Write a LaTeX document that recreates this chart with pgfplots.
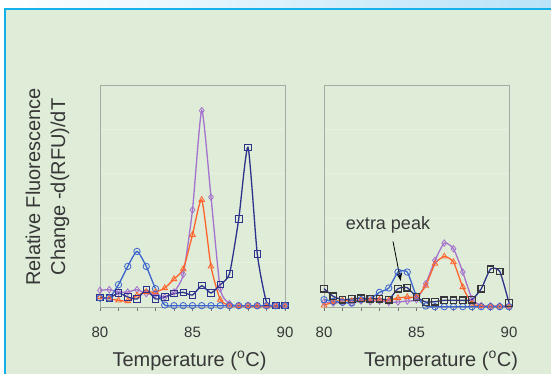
\documentclass[border=0pt]{standalone}
\usepackage{pgfplots}
\pgfplotsset{compat=1.18}
\usepackage{fontspec}
\setmainfont{Liberation Sans}
\usetikzlibrary{arrows.meta}
\definecolor{bggreen}{RGB}{222,236,216}
\definecolor{bordercyan}{RGB}{20,176,232}
\definecolor{topblue}{RGB}{184,227,248}
\definecolor{txt}{RGB}{55,55,55}
\definecolor{cblue}{RGB}{60,100,205}
\definecolor{cnavy}{RGB}{45,50,140}
\definecolor{cpurple}{RGB}{165,115,205}
\definecolor{corange}{RGB}{255,100,45}
\definecolor{cdark}{RGB}{55,55,60}
\definecolor{framegray}{RGB}{165,170,165}
\definecolor{gridc}{RGB}{229,241,225}
\pgfplotsset{
  panel/.style={
    scale only axis, width=185pt, height=222pt,
    xmin=80, xmax=90, ymin=0, ymax=667,
    xtick={80,85,90}, minor x tick num=4,
    ytick={133.4,266.8,400.2,533.6}, yticklabels={},
    ymajorgrids, grid style={gridc, line width=0.8pt},
    y tick style={draw=none},
    tick align=outside, xtick pos=bottom,
    major tick length=4pt, minor tick length=4pt,
    x tick style={black!55, line width=0.6pt},
    axis line style={framegray, line width=0.8pt},
    /pgf/number format/assume math mode=true,
    xticklabel style={font=\fontsize{15}{17}\selectfont, text=txt, anchor=center, yshift=-21pt},
    xlabel={Temperature (\textsuperscript{o}C)},
    xlabel style={font=\fontsize{20}{22}\selectfont, text=txt, at={(axis description cs:0.5,0)}, anchor=center, yshift=-54pt},
    clip=false,
  },
  ser/.style={line width=1.3pt, smooth, tension=0.35, mark size=3.2pt, mark options={solid, fill=none, line width=0.8pt}},
}
\begin{document}
\begin{tikzpicture}[x=1pt,y=1pt]
\useasboundingbox (0,0) rectangle (551,374);
\shade[left color=white, right color=topblue] (0,0) rectangle (551,374);
\fill[bggreen] (5,0) rectangle (556,365);
\draw[bordercyan, line width=2pt] (5,-5) -- (5,365) -- (556,365);

\node[rotate=90, align=center, font=\fontsize{20}{25}\selectfont, text=txt] at (47.5,187) {Relative Fluorescence\\Change -d(RFU)/dT};

\begin{axis}[panel, at={(100pt,67pt)}, anchor=south west, xlabel style={xshift=-3pt}]
\addplot[ser, cpurple, mark=diamond] coordinates {(80,50)(80.5,52)(81,45)(81.5,45)(82,52)(82.5,40)(83,38)(83.5,30)(84,45)(84.5,98)(85,292)(85.5,590)(86,330)(86.5,55)(87,10)(87.5,4)(88,4)(88.5,4)(89,4)(89.5,4)(90,4)};
\addplot[ser, corange, mark=triangle] coordinates {(80,30)(80.5,25)(81,20)(81.5,18)(82,35)(82.5,45)(83,45)(83.5,57)(84,84)(84.5,114)(85,217)(85.5,322)(86,122)(86.5,22)(87,5)(87.5,3)(88,3)(88.5,2)(89,2)(89.5,2)(90,2)};
\addplot[ser, cnavy, mark=square] coordinates {(80,28)(80.5,27)(81,42)(81.5,30)(82,24)(82.5,52)(83,24)(83.5,30)(84,40)(84.5,44)(85,36)(85.5,64)(86,42)(86.5,67)(87,100)(87.5,265)(88,480)(88.5,160)(89,15)(89.5,4)(90,4)};
\addplot[ser, cblue, mark=o] coordinates {(80,27)(80.5,27)(81,67)(81.5,122)(82,167)(82.5,122)(83,55)(83.5,6)(84,4)(84.5,4)(85,4)(85.5,4)(86,4)(86.5,4)(87,4)(87.5,4)(88,4)(88.5,4)(89,4)(89.5,4)(90,4)};
\end{axis}

\begin{axis}[panel, at={(324pt,67pt)}, anchor=south west, xlabel style={xshift=24.5pt}]
\addplot[ser, cpurple, mark=diamond] coordinates {(80,15)(80.5,12)(81,14)(81.5,12)(82,18)(82.5,16)(83,18)(83.5,14)(84,15)(84.5,18)(85,22)(85.5,70)(86,140)(86.5,192)(87,175)(87.5,105)(88,25)(88.5,4)(89,3)(89.5,3)(90,3)};
\addplot[ser, corange, mark=triangle] coordinates {(80,5)(80.5,15)(81,20)(81.5,18)(82,20)(82.5,20)(83,22)(83.5,20)(84,27)(84.5,30)(85,30)(85.5,64)(86,130)(86.5,152)(87,135)(87.5,60)(88,10)(88.5,3)(89,2)(89.5,2)(90,2)};
\addplot[ser, cblue, mark=o] coordinates {(80,22)(80.5,17)(81,14)(81.5,12)(82,22)(82.5,25)(83,44)(83.5,57)(84,105)(84.5,105)(85,32)(85.5,3)(86,1)(86.5,1)(87,1)(87.5,1)(88,1)(88.5,1)(89,1)(89.5,1)(90,1)};
\addplot[ser, cnavy, mark=square, mark options={draw=cdark}] coordinates {(80,55)(80.5,32)(81,22)(81.5,24)(82,26)(82.5,25)(83,25)(83.5,22)(84,55)(84.5,58)(85,30)(85.5,15)(86,16)(86.5,20)(87,20)(87.5,20)(88,22)(88.5,55)(89,114)(89.5,107)(90,12)};
\node[font=\fontsize{18}{20}\selectfont, text=txt] at (axis cs:83.46,247) {extra peak};
\draw[-{Latex[length=8pt,width=6pt]}, black, line width=0.8pt] (axis cs:83.73,197) -- (axis cs:84.15,77);
\end{axis}
\end{tikzpicture}
\end{document}
